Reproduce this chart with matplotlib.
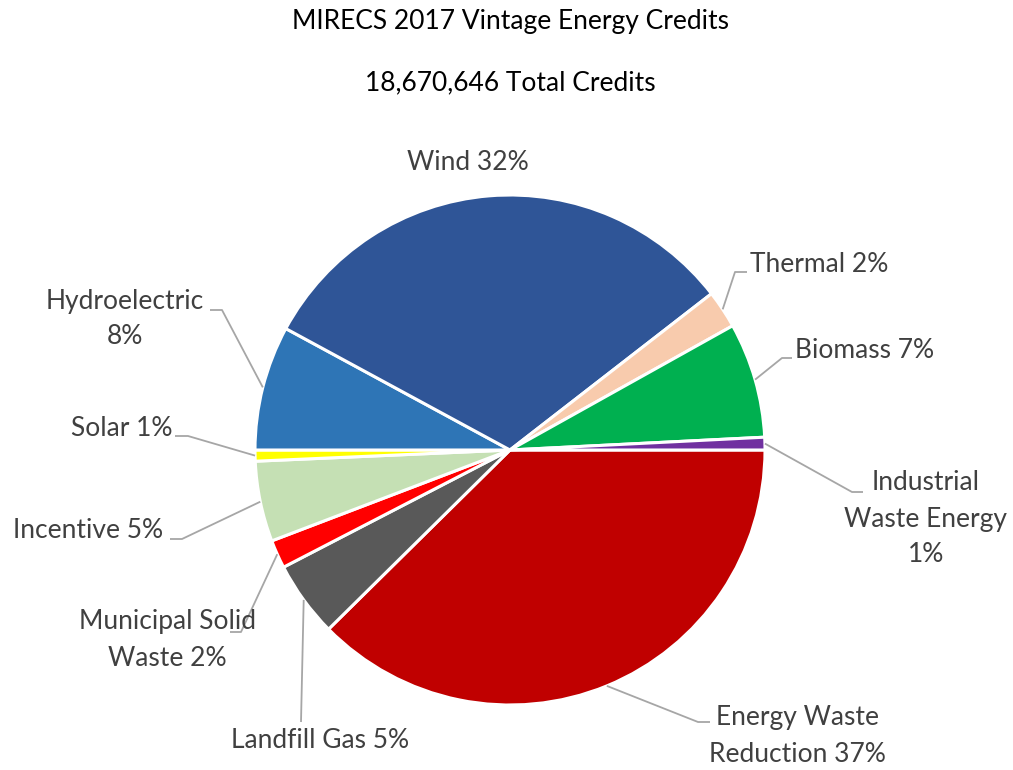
import matplotlib.pyplot as plt
import numpy as np

# slice order: clockwise from 3 o'clock
categories = ["Energy Waste Reduction", "Landfill Gas", "Municipal Solid Waste", "Incentive",
              "Solar", "Hydroelectric", "Wind", "Thermal", "Biomass", "Industrial Waste Energy"]
shares = [37.6, 4.8, 1.8, 5.1, 0.7, 7.9, 31.6, 2.4, 7.3, 0.8]
labels = ["Energy Waste\nReduction 37%", "Landfill Gas 5%", "Municipal Solid\nWaste 2%", "Incentive 5%",
          "Solar 1%", "Hydroelectric\n8%", "Wind 32%", "Thermal 2%", "Biomass 7%",
          "Industrial\nWaste Energy\n1%"]
colors = ["#C00000", "#595959", "#FF0000", "#C5E0B4", "#FFFF00",
          "#2E75B6", "#2F5597", "#F8CBAD", "#00B050", "#7030A0"]
title_lines = ["MIRECS 2017 Vintage Energy Credits", "18,670,646 Total Credits"]

W, H = 1013, 770
cx, cy, R = 510, 450, 255   # pie centre / radius in pixels (y from top)

# label layout: text pos, alignment, leader elbow + end (pixels, y from top)
layout = {
    "Energy Waste Reduction": dict(xy=(797, 736), ha="center", leg=[(698, 722), (710, 722)]),
    "Landfill Gas": dict(xy=(320, 741), ha="center", leg=[(301, 722)]),
    "Municipal Solid Waste": dict(xy=(167, 640), ha="center", leg=[(241, 632), (230, 632)]),
    "Incentive": dict(xy=(163, 530), ha="right", leg=[(182, 539), (170, 539)]),
    "Solar": dict(xy=(172, 428), ha="right", leg=[(188, 436), (175, 436)]),
    "Hydroelectric": dict(xy=(125, 319), ha="center", leg=[(222, 310), (210, 310)]),
    "Wind": dict(xy=(468, 163), ha="center", leg=None),
    "Thermal": dict(xy=(750, 265), ha="left", leg=[(735, 272), (747, 272)]),
    "Biomass": dict(xy=(795, 350), ha="left", leg=[(782, 358), (792, 358)]),
    "Industrial Waste Energy": dict(xy=(926, 519), ha="center", leg=[(852, 492), (863, 492)]),
}

plt.rcParams['font.family'] = ['Lato', 'DejaVu Sans']
fig = plt.figure(figsize=(W / 100, H / 100), dpi=100)
ax = fig.add_axes((0, 0, 1, 1))

wedges, _ = ax.pie(shares, colors=colors, startangle=0, counterclock=False,
                   center=(cx, H - cy), radius=R,
                   wedgeprops=dict(edgecolor="white", linewidth=2.2))
ax.set_xlim(0, W)
ax.set_ylim(0, H)
ax.set_aspect("equal")
ax.axis("off")

for w, cat, lab in zip(wedges, categories, labels):
    lo = layout[cat]
    if lo["leg"]:
        mid = np.deg2rad((w.theta1 + w.theta2) / 2)
        pts = [(cx + R * np.cos(mid), H - cy + R * np.sin(mid))]
        pts += [(px, H - py) for px, py in lo["leg"]]
        xs, ys = zip(*pts)
        ax.plot(xs, ys, color="#A6A6A6", lw=1.3, solid_capstyle="butt")
    ax.text(lo["xy"][0], H - lo["xy"][1], lab, ha=lo["ha"], va="center",
            multialignment="center", fontsize=19, color="#404040", linespacing=1.55)

ax.text(cx, H - 22, title_lines[0], ha="center", va="center", fontsize=19, color="black")
ax.text(cx, H - 83, title_lines[1], ha="center", va="center", fontsize=19, color="black")

fig.savefig("out.png", dpi=100)
